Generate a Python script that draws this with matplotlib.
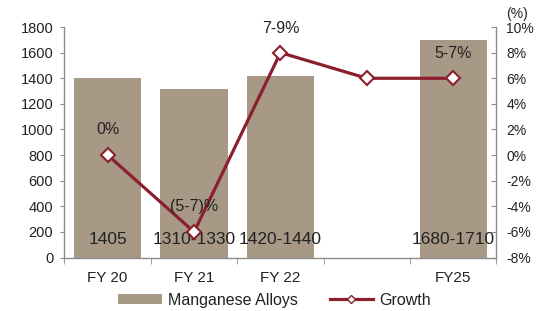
import numpy as np
import matplotlib
matplotlib.use("Agg")
import matplotlib.pyplot as plt
from matplotlib.lines import Line2D
from matplotlib.patches import Patch

plt.rcParams['font.family'] = ['Liberation Sans', 'DejaVu Sans']

categories = ["FY 20", "FY 21", "FY 22", "", "FY25"]
volumes = [1405, 1320, 1415, np.nan, 1695]
bar_labels = ["1405", "1310-1330", "1420-1440", "", "1680-1710"]
growth = [0, -6, 8, 6, 6]
growth_labels = ["0%", "(5-7)%", "7-9%", "", "5-7%"]
growth_label_pos = [2.0, -4.0, 9.9, None, 7.9]

bar_color = "#A79986"
line_color = "#8C1F2E"
axis_color = "#8C8C8C"
text_color = "#222222"

fig = plt.figure(figsize=(5.45, 3.11), dpi=100)
ax = fig.add_axes([0.1183, 0.172, 0.7927, 0.741])
ax2 = ax.twinx()

x = np.arange(len(categories))
ax.bar(x, volumes, width=0.78, color=bar_color, zorder=2)
ax.set_xlim(-0.5, len(categories) - 0.5)
ax.set_ylim(0, 1800)
ax.set_yticks(np.arange(0, 1801, 200))
ax.set_xticks(x)
ax.set_xticklabels(categories, fontsize=11, color=text_color)
ax.set_xticks(np.arange(-0.5, len(categories), 1), minor=True)
ax.tick_params(axis='x', which='major', length=0, pad=10)
ax.tick_params(axis='x', which='minor', length=4, color=axis_color, direction='out')
ax.tick_params(axis='y', length=3, color=axis_color, labelsize=10.5, labelcolor=text_color, pad=5)

for xi, lab in zip(x, bar_labels):
    if lab:
        ax.text(xi, 140, lab, ha='center', va='center', fontsize=12.5, color=text_color, zorder=3)

ax2.plot(x, growth, color=line_color, lw=2.3, marker='D', markersize=7,
         markerfacecolor='white', markeredgecolor=line_color, markeredgewidth=1.5, zorder=4)
ax2.set_ylim(-8, 10)
ax2.set_yticks(np.arange(-8, 11, 2))
ax2.set_yticklabels([f"{v}%" for v in range(-8, 11, 2)])
ax2.tick_params(axis='y', length=3.5, direction='in', color=axis_color, labelsize=10,
                labelcolor=text_color, pad=7)

for xi, lab, yp in zip(x, growth_labels, growth_label_pos):
    if lab:
        ax2.text(xi, yp, lab, ha='center', va='center', fontsize=11.5, color=text_color, zorder=5)

for a in (ax, ax2):
    a.spines['top'].set_visible(False)
    for s in ('left', 'right', 'bottom'):
        a.spines[s].set_color(axis_color)
        a.spines[s].set_linewidth(1.0)
ax.spines['right'].set_visible(False)
ax2.spines['left'].set_visible(False)
ax2.spines['bottom'].set_visible(False)

fig.text(0.949, 0.955, "(%)", ha='center', va='center', fontsize=10, color=text_color)

handles = [Patch(facecolor=bar_color, edgecolor='none'),
           Line2D([0], [0], color=line_color, lw=2.3, marker='D', markersize=4.5,
                  markerfacecolor='white', markeredgecolor=line_color)]
fig.legend(handles, ["Manganese Alloys", "Growth"], loc='center', bbox_to_anchor=(0.504, 0.035),
           ncol=2, frameon=False, fontsize=11.5, handlelength=2.7, handleheight=0.6,
           handletextpad=0.4, columnspacing=2.0, labelcolor=text_color)

fig.savefig("out.png", dpi=100)
